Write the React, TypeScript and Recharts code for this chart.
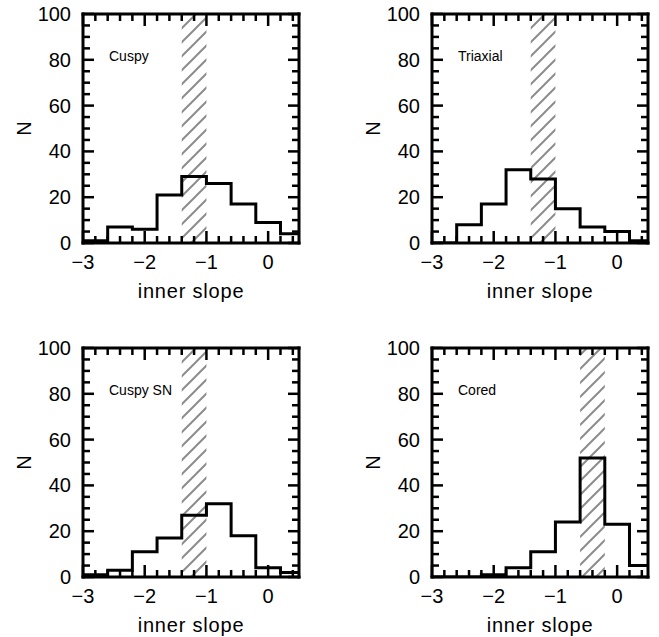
import React from 'react';
import { LineChart, Line, XAxis, YAxis, ReferenceArea } from 'recharts';

// ---- data ----
const binEdges = [-3, -2.6, -2.2, -1.8, -1.4, -1.0, -0.6, -0.2, 0.2, 0.5];
const cuspyCounts = [1, 7, 6, 21, 29, 26, 17, 9, 4];
const triaxialCounts = [0, 8, 17, 32, 28, 15, 7, 5, 1];
const cuspySNCounts = [1, 3, 11, 17, 27, 32, 18, 4, 2];
const coredCounts = [0, 0, 1, 4, 11, 24, 52, 23, 5];
const panelNames = ['Cuspy', 'Triaxial', 'Cuspy SN', 'Cored'];
const bandCusp = [-1.4, -1.0];
const bandCored = [-0.6, -0.2];
const xTicks = [-3, -2.8, -2.6, -2.4, -2.2, -2, -1.8, -1.6, -1.4, -1.2, -1, -0.8, -0.6, -0.4, -0.2, 0, 0.2, 0.4];
const yTicks = [0, 5, 10, 15, 20, 25, 30, 35, 40, 45, 50, 55, 60, 65, 70, 75, 80, 85, 90, 95, 100];
const xLabel = 'inner slope';
const yLabel = 'N';

// ---- layout ----
const FONT = '"Liberation Sans", Arial, Helvetica, sans-serif';
const M_LEFT = 83;
const M_TOP = 14;
const PLOT_W = 216;
const PLOT_H = 229;
const X_AX_H = 64;
const R_MARGIN = 6;
const CH_W = M_LEFT + PLOT_W + 1 + R_MARGIN;
const CH_H = M_TOP + PLOT_H + X_AX_H;
const AXIS_LINE = { stroke: '#000', strokeWidth: 3, strokeLinecap: 'square' as const };
const TICK_W = 2.5;
const X_BOTTOM = M_TOP + PLOT_H;
const X_RIGHT = M_LEFT + PLOT_W;

const isMajorX = (v: number) => Math.abs(v - Math.round(v)) < 1e-6;
const isMajorY = (v: number) => Math.abs(v % 20) < 1e-6;
const fmt = (v: number) => {
  const r = Math.round(v);
  if (r === 0) return '0';
  return r < 0 ? '\u2212' + Math.abs(r) : String(r);
};

const BottomTick = (props: any) => {
  const { x, payload } = props;
  const v = payload.value;
  const major = isMajorX(v);
  return (
    <g>
      <line x1={x} x2={x} y1={X_BOTTOM} y2={X_BOTTOM - (major ? 12 : 7)} stroke="#000" strokeWidth={TICK_W} />
      {major && (
        <text x={x} y={X_BOTTOM + 19} textAnchor="middle" dominantBaseline="central" fontFamily={FONT} fontSize={20} fill="#000">
          {fmt(v)}
        </text>
      )}
    </g>
  );
};

const TopTick = (props: any) => {
  const { x, payload } = props;
  const major = isMajorX(payload.value);
  return <line x1={x} x2={x} y1={M_TOP} y2={M_TOP + (major ? 12 : 7)} stroke="#000" strokeWidth={TICK_W} />;
};

const LeftTick = (props: any) => {
  const { y, payload } = props;
  const v = payload.value;
  const major = isMajorY(v);
  return (
    <g>
      <line x1={M_LEFT} x2={M_LEFT + (major ? 11 : 7)} y1={y} y2={y} stroke="#000" strokeWidth={TICK_W} />
      {major && (
        <text x={M_LEFT - 12} y={y} textAnchor="end" dominantBaseline="central" fontFamily={FONT} fontSize={20} fill="#000">
          {String(v)}
        </text>
      )}
    </g>
  );
};

const RightTick = (props: any) => {
  const { y, payload } = props;
  const major = isMajorY(payload.value);
  return <line x1={X_RIGHT} x2={X_RIGHT - (major ? 11 : 7)} y1={y} y2={y} stroke="#000" strokeWidth={TICK_W} />;
};

function Panel({ idx, name, counts, band, left, top }: { idx: number; name: string; counts: number[]; band: number[]; left: number; top: number }) {
  const data = binEdges.map((x, i) => ({ x, n: counts[Math.min(i, counts.length - 1)] }));
  const pid = `hatch${idx}`;
  return (
    <div style={{ position: 'absolute', left, top }}>
      <LineChart width={CH_W} height={CH_H} data={data} margin={{ top: M_TOP - 1, right: R_MARGIN, bottom: 0, left: 0 }}>
        <defs>
          <pattern id={pid} patternUnits="userSpaceOnUse" width={14} height={14}>
            <path d="M-3.5,3.5 L3.5,-3.5 M0,14 L14,0 M10.5,17.5 L17.5,10.5" stroke="#8c8c8c" strokeWidth={2} />
          </pattern>
        </defs>
        <XAxis
          xAxisId="b"
          dataKey="x"
          type="number"
          domain={[-3, 0.5]}
          allowDataOverflow
          ticks={xTicks}
          interval={0}
          tickSize={0}
          tickMargin={0}
          tickLine={false}
          tick={<BottomTick />}
          axisLine={AXIS_LINE}
          height={X_AX_H}
          orientation="bottom"
        />
        <XAxis
          xAxisId="t"
          dataKey="x"
          type="number"
          domain={[-3, 0.5]}
          allowDataOverflow
          ticks={xTicks}
          interval={0}
          tickSize={0}
          tickMargin={0}
          tickLine={false}
          tick={<TopTick />}
          axisLine={AXIS_LINE}
          height={1}
          orientation="top"
        />
        <YAxis
          yAxisId="l"
          type="number"
          domain={[0, 100]}
          allowDataOverflow
          ticks={yTicks}
          interval={0}
          tickSize={0}
          tickMargin={0}
          tickLine={false}
          tick={<LeftTick />}
          axisLine={AXIS_LINE}
          width={M_LEFT}
          orientation="left"
        />
        <YAxis
          yAxisId="r"
          type="number"
          domain={[0, 100]}
          allowDataOverflow
          ticks={yTicks}
          interval={0}
          tickSize={0}
          tickMargin={0}
          tickLine={false}
          tick={<RightTick />}
          axisLine={AXIS_LINE}
          width={1}
          orientation="right"
        />
        <ReferenceArea
          xAxisId="b"
          yAxisId="l"
          x1={band[0]}
          x2={band[1]}
          y1={0}
          y2={100}
          fill={`url(#${pid})`}
          fillOpacity={1}
          stroke="none"
          ifOverflow="hidden"
        />
        <Line
          xAxisId="b"
          yAxisId="l"
          type="stepAfter"
          dataKey="n"
          stroke="#000"
          strokeWidth={3}
          dot={false}
          activeDot={false}
          isAnimationActive={false}
        />
        <text x={M_LEFT + 26} y={M_TOP + 47} fontFamily={FONT} fontSize={14} fill="#000">
          {name}
        </text>
        <text x={M_LEFT + PLOT_W / 2} y={M_TOP + PLOT_H + 48} textAnchor="middle" dominantBaseline="central" fontFamily={FONT} fontSize={20} letterSpacing={0.8} fill="#000">
          {xLabel}
        </text>
        <text
          x={M_LEFT - 59}
          y={M_TOP + PLOT_H / 2}
          textAnchor="middle"
          dominantBaseline="central"
          fontFamily={FONT}
          fontSize={20}
          fill="#000"
          transform={`rotate(-90 ${M_LEFT - 59} ${M_TOP + PLOT_H / 2})`}
        >
          {yLabel}
        </text>
      </LineChart>
    </div>
  );
}

export default function App() {
  return (
    <div style={{ position: 'absolute', left: 0, top: 0, width: 659, height: 637, overflow: 'hidden', background: '#fff' }}>
      <Panel idx={0} name={panelNames[0]} counts={cuspyCounts} band={bandCusp} left={0} top={0} />
      <Panel idx={1} name={panelNames[1]} counts={triaxialCounts} band={bandCusp} left={349} top={0} />
      <Panel idx={2} name={panelNames[2]} counts={cuspySNCounts} band={bandCusp} left={0} top={334} />
      <Panel idx={3} name={panelNames[3]} counts={coredCounts} band={bandCored} left={349} top={334} />
    </div>
  );
}
